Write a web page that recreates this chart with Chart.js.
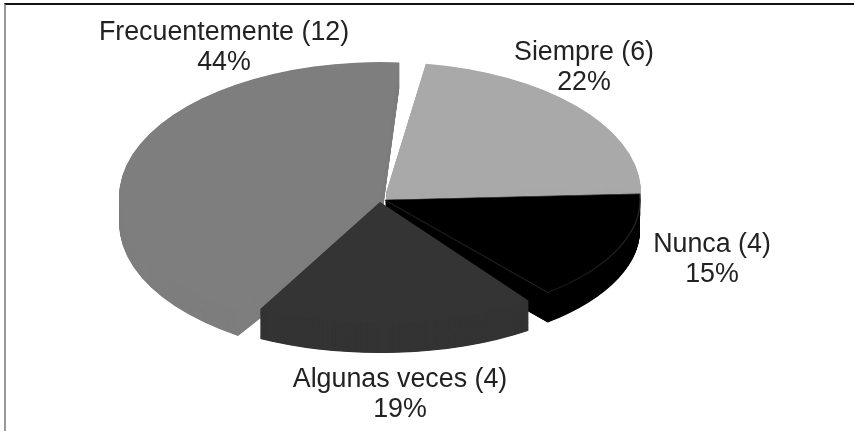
<!DOCTYPE html>
<html>
<head>
<meta charset="utf-8">
<script src="https://cdn.jsdelivr.net/npm/chart.js@4"></script>
<style>
  html, body { margin: 0; padding: 0; background: #fff; overflow: hidden; }
  #wrap { position: relative; width: 854px; height: 431px; }
  #frame { position: absolute; left: 4px; top: 3px; right: 0; bottom: 0; border-top: 2px solid #111; border-left: 2px solid #999; }
  canvas { position: absolute; left: 0; top: 0; filter: blur(0.4px); }
</style>
</head>
<body>
<div id="wrap">
  <div id="frame"></div>
  <canvas id="pie" width="854" height="431"></canvas>
</div>
<script>
const categories = ['Siempre (6)', 'Nunca (4)', 'Algunas veces (4)', 'Frecuentemente (12)'];
const percents = [22, 15, 19, 44];
const percentLabels = ['22%', '15%', '19%', '44%'];
const colors = ['#a9a9a9', '#000000', '#343434', '#7e7e7e'];
const borderWidths = [0, 1.5, 0, 0];
const drawOrder = [3, 0, 1, 2]; // back to front
const labelPos = [[584, 53], [712, 245], [400, 380], [224, 33]];

// the slices of the original are not one clean ellipse, so each gets its own tilt
const apex = [[386, 193], [385, 200], [380, 202], [381, 197]];
const scaleX = [1, 1, 1.008, 1.027];
const scaleY = [0.513, 0.471, 0.475, 0.529];
const depthPx = [30, 30, 30, 26];
const trimStart = [0, 0, 4.3, 5.3]; // degrees

function tiltCtx(ctx, arc, i) {
  ctx.translate(apex[i][0], apex[i][1]);
  ctx.scale(scaleX[i], scaleY[i]);
  ctx.translate(-arc.x, -arc.y);
}

const tiltPlugin = {
  id: 'tilt',
  afterDatasetsUpdate(chart) {
    chart.getDatasetMeta(0).data.forEach((arc, i) => {
      const a = trimStart[i] * Math.PI / 180;
      arc.startAngle += a;
      arc.circumference -= a;
    });
  },
  beforeDatasetDraw() {
    return false;
  },
  beforeDatasetsDraw(chart) {
    const ctx = chart.ctx;
    const arcs = chart.getDatasetMeta(0).data;
    drawOrder.forEach(i => {
      const arc = arcs[i];
      const saved = arc.options;
      arc.options = Object.create(saved);
      arc.options.borderWidth = 0;
      const depth = Math.round(depthPx[i] / scaleY[i]);
      ctx.save();
      tiltCtx(ctx, arc, i);
      for (let d = depth; d > 0; d--) {
        ctx.save();
        ctx.translate(0, d);
        arc.draw(ctx);
        ctx.restore();
      }
      ctx.restore();
      arc.options = saved;
    });
    drawOrder.forEach(i => {
      ctx.save();
      tiltCtx(ctx, arcs[i], i);
      arcs[i].draw(ctx);
      ctx.restore();
    });
  },
  afterDatasetsDraw(chart) {
    const ctx = chart.ctx;
    ctx.save();
    ctx.font = '26.8px "Liberation Sans"';
    ctx.fillStyle = '#222';
    ctx.textAlign = 'center';
    ctx.textBaseline = 'middle';
    categories.forEach((c, i) => {
      ctx.fillText(c, labelPos[i][0], labelPos[i][1]);
      ctx.fillText(percentLabels[i], labelPos[i][0], labelPos[i][1] + 30);
    });
    ctx.restore();
  }
};

new Chart(document.getElementById('pie'), {
  type: 'pie',
  data: {
    labels: categories,
    datasets: [{
      data: percents,
      backgroundColor: colors,
      borderColor: '#222',
      borderWidth: borderWidths,
      clip: false
    }]
  },
  options: {
    responsive: false,
    animation: false,
    rotation: 9,
    circumference: 355,
    radius: 255,
    layout: { padding: 0 },
    plugins: { legend: { display: false }, tooltip: { enabled: false } }
  },
  plugins: [tiltPlugin]
});
</script>
</body>
</html>
